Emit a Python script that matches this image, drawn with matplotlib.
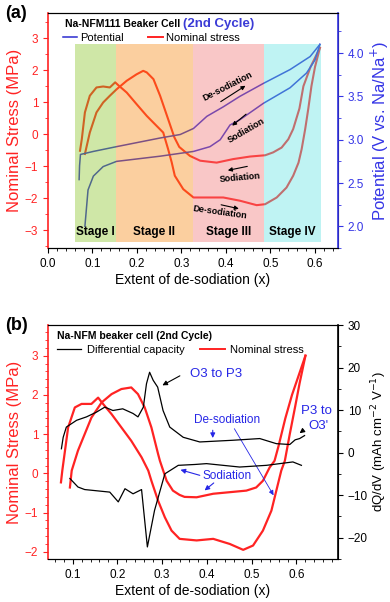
import numpy as np
import matplotlib
matplotlib.use("Agg")
import matplotlib.pyplot as plt
from matplotlib.ticker import MultipleLocator

plt.rcParams['font.family'] = ['Liberation Sans', 'DejaVu Sans']

RED = '#ff2323'
BLUE = '#2b2bd0'
TXTBLUE = '#2626e6'

# ---------------- panel (a) data ----------------
a_stress_des_x = [0.072, 0.076, 0.083, 0.094, 0.109, 0.124, 0.139, 0.151, 0.158, 0.177, 0.199, 0.222,
                  0.244, 0.259, 0.270, 0.278, 0.285, 0.304, 0.327, 0.357, 0.394, 0.431, 0.469, 0.488,
                  0.514, 0.536, 0.551, 0.563, 0.570, 0.578, 0.585, 0.592, 0.600, 0.611]
a_stress_des_y = [-0.52, -0.16, 0.68, 1.20, 1.46, 1.49, 1.46, 1.62, 1.53, 1.30, 0.94, 0.57,
                  0.26, 0.05, -0.47, -0.88, -1.30, -1.72, -1.98, -1.98, -1.98, -2.08, -2.22, -2.19,
                  -1.98, -1.67, -1.30, -0.89, -0.47, 0.16, 0.80, 1.50, 2.10, 2.70]
a_stress_sod_x = [0.611, 0.590, 0.574, 0.565, 0.551, 0.540, 0.525, 0.506, 0.488, 0.454, 0.416, 0.379,
                  0.342, 0.319, 0.295, 0.284, 0.270, 0.252, 0.237, 0.222, 0.214, 0.199, 0.177, 0.154,
                  0.139, 0.124, 0.109, 0.094, 0.083]
a_stress_sod_y = [2.70, 2.10, 1.50, 0.80, 0.16, -0.16, -0.42, -0.57, -0.66, -0.70, -0.78, -0.89,
                  -0.83, -0.68, -0.40, -0.10, 0.47, 1.20, 1.72, 1.93, 1.98, 1.87, 1.67, 1.40,
                  1.20, 0.99, 0.68, 0.05, -0.62]
a_pot_chg_x = [0.070, 0.071, 0.073, 0.102, 0.154, 0.252, 0.297, 0.327, 0.357, 0.394, 0.431, 0.484,
               0.544, 0.589, 0.611]
a_pot_chg_y = [2.54, 2.70, 2.83, 2.865, 2.92, 3.02, 3.06, 3.13, 3.27, 3.38, 3.50, 3.65,
               3.81, 3.96, 4.10]
a_pot_dis_x = [0.611, 0.600, 0.581, 0.544, 0.484, 0.431, 0.409, 0.400, 0.387, 0.364, 0.327, 0.252,
               0.154, 0.124, 0.102, 0.090, 0.083]
a_pot_dis_y = [4.10, 3.92, 3.77, 3.60, 3.42, 3.23, 3.17, 3.10, 3.00, 2.92, 2.865, 2.81,
               2.75, 2.69, 2.58, 2.42, 2.00]
stage_edges = [0.061, 0.153, 0.325, 0.486, 0.613]
stage_names = ['Stage I', 'Stage II', 'Stage III', 'Stage IV']
stage_colors = ['#89c525', '#f78911', '#f27575', '#61e3e3']

# ---------------- panel (b) data ----------------
b_stress_des_x = [0.074, 0.077, 0.090, 0.105, 0.120, 0.142, 0.157, 0.168, 0.187, 0.209, 0.231, 0.254,
                  0.269, 0.276, 0.291, 0.306, 0.321, 0.339, 0.377, 0.414, 0.451, 0.481, 0.503, 0.525,
                  0.544, 0.555, 0.566, 0.574, 0.585, 0.597, 0.607, 0.620]
b_stress_des_y = [-0.23, 0.07, 1.17, 1.68, 1.77, 1.77, 1.93, 1.77, 1.51, 1.17, 0.83, 0.41,
                  0.07, -0.19, -0.70, -1.12, -1.46, -1.67, -1.71, -1.67, -1.80, -1.95, -1.84, -1.46,
                  -0.95, -0.44, 0.07, 0.32, 1.00, 1.70, 2.30, 3.00]
b_stress_sod_x = [0.620, 0.605, 0.590, 0.575, 0.560, 0.551, 0.540, 0.525, 0.510, 0.488, 0.451, 0.414,
                  0.377, 0.350, 0.339, 0.324, 0.310, 0.295, 0.291, 0.276, 0.261, 0.246, 0.231, 0.209,
                  0.187, 0.165, 0.142, 0.127, 0.112, 0.098, 0.094]
b_stress_sod_y = [3.00, 2.50, 2.00, 1.40, 0.70, 0.32, 0.15, -0.19, -0.36, -0.44, -0.48, -0.52,
                  -0.61, -0.60, -0.55, -0.44, -0.19, 0.32, 0.49, 1.17, 1.68, 2.02, 2.19, 2.15,
                  2.02, 1.81, 1.42, 1.00, 0.58, 0.07, -0.36]
b_dqdv_chg_x = [0.075, 0.079, 0.086, 0.109, 0.131, 0.153, 0.172, 0.190, 0.212, 0.235, 0.246, 0.258,
                0.265, 0.272, 0.280, 0.290, 0.302, 0.317, 0.347, 0.384, 0.458, 0.518, 0.555, 0.585,
                0.597, 0.607, 0.618]
b_dqdv_chg_y = [0.9, 3.6, 6.0, 7.6, 8.4, 9.5, 10.7, 9.9, 10.3, 9.2, 8.4, 10.7,
                16.2, 18.9, 17.0, 15.4, 9.9, 6.0, 3.6, 2.5, 2.9, 3.3, 2.1, 1.9,
                3.0, 3.3, 4.0]
b_dqdv_dis_x = [0.611, 0.592, 0.533, 0.473, 0.399, 0.373, 0.336, 0.306, 0.283, 0.267, 0.254, 0.235,
                0.217, 0.202, 0.183, 0.127, 0.112, 0.094]
b_dqdv_dis_y = [-3.0, -2.2, -3.0, -3.4, -2.6, -2.8, -3.0, -5.0, -13.6, -22.2, -8.7, -9.7,
                -8.5, -11.6, -9.3, -8.7, -8.1, -6.1]

fig = plt.figure(figsize=(3.9, 6.02), dpi=100)


def style_axes(ax, ax2, rcolor):
    ax.tick_params(axis='y', colors=RED, labelsize=8.5, direction='out', length=3.5)
    ax.tick_params(axis='y', which='minor', colors=RED, length=2)
    ax.tick_params(axis='x', labelsize=8.5, direction='out', length=3.5)
    ax.tick_params(axis='x', which='minor', length=2)
    ax.spines['left'].set_color(RED)
    ax.spines['left'].set_linewidth(1.2)
    ax2.spines['left'].set_visible(False)
    ax2.spines['right'].set_color(rcolor)
    ax2.spines['right'].set_linewidth(1.2)
    ax2.tick_params(axis='y', colors=rcolor, labelsize=8.5, direction='out', length=3.5)
    ax2.tick_params(axis='y', which='minor', colors=rcolor, length=2)
    ax.xaxis.set_major_locator(MultipleLocator(0.1))
    ax.xaxis.set_minor_locator(MultipleLocator(0.02))
    ax.set_xlabel('Extent of de-sodiation (x)', fontsize=10, labelpad=2)


# ================= panel (a) =================
ax = fig.add_axes([0.123, 0.588, 0.744, 0.390])
ax2 = ax.twinx()
ax.plot(a_stress_des_x, a_stress_des_y, color=RED, lw=1.5, zorder=2)
ax.plot(a_stress_sod_x, a_stress_sod_y, color=RED, lw=1.5, zorder=2)
lp, = ax2.plot(a_pot_chg_x, a_pot_chg_y, color=BLUE, lw=1.1, zorder=2, label='Potential')
ax2.plot(a_pot_dis_x, a_pot_dis_y, color=BLUE, lw=1.1, zorder=2)
ls, = ax.plot([], [], color=RED, lw=1.4, label='Nominal stress')

ax.set_xlim(0, 0.652)
ax.set_ylim(-3.56, 3.78)
ax2.set_ylim(1.75, 4.46)
ax.yaxis.set_major_locator(MultipleLocator(1))
ax.yaxis.set_minor_locator(MultipleLocator(0.5))
ax2.yaxis.set_minor_locator(MultipleLocator(0.25))
ax2.set_yticks([2.0, 2.5, 3.0, 3.5, 4.0])
style_axes(ax, ax2, '#3535e6')
ax.set_ylabel('Nominal Stress (MPa)', color=RED, fontsize=12, labelpad=2)
ax2.set_ylabel('Potential (V vs. Na/Na$^{+}$)', color='#3535e6', fontsize=12, labelpad=3)

for i in range(4):
    ax2.axvspan(stage_edges[i], stage_edges[i + 1], ymin=0.027, ymax=0.868,
                color=stage_colors[i], alpha=0.4, lw=0, zorder=5)
    ax2.text((stage_edges[i] + stage_edges[i + 1]) / 2, 0.07, stage_names[i],
             transform=ax2.get_xaxis_transform(), ha='center', va='center',
             fontsize=8.5, fontweight='bold', zorder=6)

ax2.text(0.058, 0.955, 'Na-NFM111 Beaker Cell', transform=ax2.transAxes, fontsize=7.5,
         fontweight='bold', va='center', zorder=7)
ax2.text(0.465, 0.955, '(2nd Cycle)', transform=ax2.transAxes, fontsize=9.5,
         fontweight='bold', color='#3b3bd6', va='center', zorder=7)
ax2.legend(handles=[lp, ls], loc='upper left', bbox_to_anchor=(0.035, 0.935), ncol=2,
           frameon=False, fontsize=8, handlelength=1.3, handletextpad=0.3,
           columnspacing=2.2, borderaxespad=0)

# arrows and labels inside panel (a), drawn on the top axes in stress coordinates
sd = ax.transData
arr_a = dict(arrowstyle='-|>', color='black', lw=0.8, mutation_scale=6)
ax2.annotate('', xy=(0.449, 1.56), xytext=(0.383, 0.97), xycoords=sd, textcoords=sd,
             arrowprops=arr_a, zorder=7)
ax2.text(0.403, 1.48, 'De-sodiation', rotation=27, fontsize=6.5, fontweight='bold',
         ha='center', va='center', transform=sd, zorder=7)
ax2.annotate('', xy=(0.409, 0.21), xytext=(0.450, 0.68), xycoords=sd, textcoords=sd,
             arrowprops=arr_a, zorder=7)
ax2.text(0.445, 0.10, 'Sodiation', rotation=30, fontsize=6.5, fontweight='bold',
         ha='center', va='center', transform=sd, zorder=7)
ax2.annotate('', xy=(0.398, -1.15), xytext=(0.454, -0.99), xycoords=sd, textcoords=sd,
             arrowprops=arr_a, zorder=7)
ax2.text(0.431, -1.35, 'Sodiation', rotation=5, fontsize=6.5, fontweight='bold',
         ha='center', va='center', transform=sd, zorder=7)
ax2.annotate('', xy=(0.435, -2.35), xytext=(0.383, -2.19), xycoords=sd, textcoords=sd,
             arrowprops=arr_a, zorder=7)
ax2.text(0.387, -2.45, 'De-sodiation', rotation=-8, fontsize=6.5, fontweight='bold',
         ha='center', va='center', transform=sd, zorder=7)

fig.text(0.012, 0.978, '(a)', fontsize=13, fontweight='bold', va='center')

# ================= panel (b) =================
bx = fig.add_axes([0.123, 0.071, 0.744, 0.389])
bx2 = bx.twinx()
bx.plot(b_stress_des_x, b_stress_des_y, color=RED, lw=1.6, zorder=2)
bx.plot(b_stress_sod_x, b_stress_sod_y, color=RED, lw=1.6, zorder=2)
ld, = bx2.plot(b_dqdv_chg_x, b_dqdv_chg_y, color='black', lw=0.9, zorder=3,
               label='Differential capacity')
bx2.plot(b_dqdv_dis_x, b_dqdv_dis_y, color='black', lw=0.9, zorder=3)
lr, = bx.plot([], [], color=RED, lw=1.4, label='Nominal stress')

bx.set_xlim(0.045, 0.693)
bx.set_ylim(-2.19, 3.78)
bx2.set_ylim(-25.1, 30)
bx.yaxis.set_minor_locator(MultipleLocator(0.2))
bx2.yaxis.set_minor_locator(MultipleLocator(5))
style_axes(bx, bx2, 'black')
bx2.set_yticks([-20, -10, 0, 10, 20, 30])
bx2.set_yticklabels(['\u221220', '\u221210', '0', '10', '20', '30'])
bx.set_yticks([-2, -1, 0, 1, 2, 3])
bx.set_yticklabels(['\u22122', '\u22121', '0', '1', '2', '3'])
bx.set_ylabel('Nominal Stress (MPa)', color=RED, fontsize=12, labelpad=2)
bx2.set_ylabel('dQ/dV (mAh cm$^{-2}$ V$^{-1}$)', fontsize=9.5, labelpad=1)

bx2.text(0.03, 0.955, 'Na-NFM beaker cell (2nd Cycle)', transform=bx2.transAxes,
         fontsize=7.5, fontweight='bold', va='center')
bx2.legend(handles=[ld, lr], loc='upper left', bbox_to_anchor=(0.015, 0.935), ncol=2,
           frameon=False, fontsize=8, handlelength=2.2, handletextpad=0.5,
           columnspacing=1.4, borderaxespad=0)

arr_k = dict(arrowstyle='-|>', color='black', lw=0.8, mutation_scale=7)
arr_b = dict(arrowstyle='-|>', color=TXTBLUE, lw=0.8, mutation_scale=7)
bx.annotate('', xy=(0.295, 2.21), xytext=(0.345, 2.52), arrowprops=arr_k)
bx.text(0.362, 2.53, 'O3 to P3', color=TXTBLUE, fontsize=9.5, va='center')
bx.annotate('', xy=(0.602, 0.98), xytext=(0.618, 1.12), arrowprops=arr_k)
bx.text(0.645, 1.58, 'P3 to', color=TXTBLUE, fontsize=9.5, ha='center', va='center')
bx.text(0.650, 1.20, "O3'", color=TXTBLUE, fontsize=9.5, ha='center', va='center')
bx.text(0.444, 1.35, 'De-sodiation', color=TXTBLUE, fontsize=8.5, ha='center', va='center')
bx.annotate('', xy=(0.413, 0.83), xytext=(0.413, 1.17), arrowprops=arr_b)
bx.annotate('', xy=(0.552, -0.62), xytext=(0.458, 1.20),
            arrowprops=dict(arrowstyle='-|>', color=TXTBLUE, lw=0.6, mutation_scale=7))
bx.text(0.445, -0.06, 'Sodiation', color=TXTBLUE, fontsize=8.5, ha='center', va='center')
bx.annotate('', xy=(0.335, 0.11), xytext=(0.390, -0.07), arrowprops=arr_b)
bx.annotate('', xy=(0.390, -0.48), xytext=(0.420, -0.20), arrowprops=arr_b)

fig.text(0.012, 0.46, '(b)', fontsize=13, fontweight='bold', va='center')

fig.savefig('out.png', dpi=100)
